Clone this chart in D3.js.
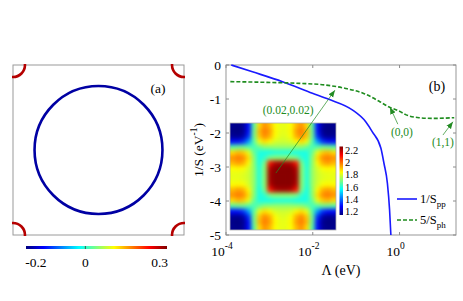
<!DOCTYPE html>
<html>
<head>
<meta charset="utf-8">
<script src="https://cdn.jsdelivr.net/npm/d3@7/dist/d3.min.js"></script>
<style>
  body { margin: 0; background: #fff; }
</style>
</head>
<body>
<div id="chart"></div>
<script>
// ---- panel (a): Fermi surface, k in [-pi, pi] ----
const fermiCircle = {kx: 0, ky: 0, r: 2.35, value: -0.22};
const fermiPockets = [
  {kx: -Math.PI, ky: Math.PI, r: 0.44, value: 0.3},
  {kx: Math.PI, ky: Math.PI, r: 0.44, value: 0.3},
  {kx: -Math.PI, ky: -Math.PI, r: 0.44, value: 0.3},
  {kx: Math.PI, ky: -Math.PI, r: 0.44, value: 0.3},
];
const fsBarDomain = [-0.24, 0.33];
const fsBarTicks = [-0.2, 0, 0.3];

// ---- panel (b): flow of 1/S ----
const lambdaPP = [1.32e-4, 4.07e-4, 2.0e-3, 9.8e-3, 0.0234, 0.0813, 0.166,
  0.234, 0.372, 0.437, 0.525, 0.589, 0.631];
const invSpp = [0.0, -0.20, -0.49, -0.83, -1.01, -1.32, -1.67,
  -1.96, -2.45, -2.89, -3.48, -4.26, -5.0];

const lambdaPH = [1.26e-4, 8.5e-4, 4.9e-3, 0.020, 0.0575, 0.158, 0.331,
  0.562, 1.0, 1.38, 2.82, 5.75, 18.2];
const invSph = [-0.49, -0.51, -0.54, -0.59, -0.69, -0.85, -1.06,
  -1.23, -1.36, -1.46, -1.55, -1.57, -1.55];

const yTicks = [0, -1, -2, -3, -4, -5];
const xTickExps = [-4, -2, 0];

const annotations = [
  {label: '(0.02,0.02)', tx: 2.7e-3, ty: -1.32, x0: 1.41e-3, y0: -3.18, x1: 0.0324, y1: -0.74},
  {label: '(0,0)', tx: 1.135, ty: -1.96, x0: 0.912, y0: -1.74, x1: 0.603, y1: -1.24},
  {label: '(1,1)', tx: 10, ty: -2.26, x0: 10, y0: -2.06, x1: 17, y1: -1.67},
];

// inset: 20x20 map of the vertex
const insetGrid = [
  [1.17,1.16,1.18,1.30,1.66,1.88,1.96,1.92,1.84,1.82,1.82,1.84,1.92,1.96,1.88,1.66,1.30,1.18,1.16,1.17],
  [1.16,1.15,1.17,1.30,1.68,1.92,1.99,1.95,1.85,1.82,1.82,1.85,1.95,1.99,1.92,1.68,1.30,1.17,1.15,1.16],
  [1.18,1.17,1.20,1.34,1.68,1.90,1.97,1.93,1.84,1.81,1.81,1.84,1.93,1.97,1.90,1.68,1.34,1.20,1.17,1.18],
  [1.30,1.30,1.34,1.46,1.66,1.82,1.88,1.85,1.80,1.79,1.79,1.80,1.85,1.88,1.82,1.66,1.46,1.34,1.30,1.30],
  [1.66,1.68,1.68,1.66,1.64,1.68,1.72,1.72,1.73,1.73,1.73,1.73,1.72,1.72,1.68,1.64,1.66,1.68,1.68,1.66],
  [1.88,1.92,1.90,1.82,1.68,1.60,1.59,1.59,1.60,1.60,1.60,1.60,1.59,1.59,1.60,1.68,1.82,1.90,1.92,1.88],
  [1.96,1.99,1.97,1.88,1.72,1.59,1.62,1.70,1.72,1.72,1.72,1.72,1.70,1.62,1.59,1.72,1.88,1.97,1.99,1.96],
  [1.92,1.95,1.93,1.85,1.72,1.59,1.70,2.10,2.20,2.22,2.22,2.20,2.10,1.70,1.59,1.72,1.85,1.93,1.95,1.92],
  [1.84,1.85,1.84,1.80,1.73,1.60,1.72,2.20,2.25,2.25,2.25,2.25,2.20,1.72,1.60,1.73,1.80,1.84,1.85,1.84],
  [1.82,1.82,1.81,1.79,1.73,1.60,1.72,2.22,2.25,2.25,2.25,2.25,2.22,1.72,1.60,1.73,1.79,1.81,1.82,1.82],
  [1.82,1.82,1.81,1.79,1.73,1.60,1.72,2.22,2.25,2.25,2.25,2.25,2.22,1.72,1.60,1.73,1.79,1.81,1.82,1.82],
  [1.84,1.85,1.84,1.80,1.73,1.60,1.72,2.20,2.25,2.25,2.25,2.25,2.20,1.72,1.60,1.73,1.80,1.84,1.85,1.84],
  [1.92,1.95,1.93,1.85,1.72,1.59,1.70,2.10,2.20,2.22,2.22,2.20,2.10,1.70,1.59,1.72,1.85,1.93,1.95,1.92],
  [1.96,1.99,1.97,1.88,1.72,1.59,1.62,1.70,1.72,1.72,1.72,1.72,1.70,1.62,1.59,1.72,1.88,1.97,1.99,1.96],
  [1.88,1.92,1.90,1.82,1.68,1.60,1.59,1.59,1.60,1.60,1.60,1.60,1.59,1.59,1.60,1.68,1.82,1.90,1.92,1.88],
  [1.66,1.68,1.68,1.66,1.64,1.68,1.72,1.72,1.73,1.73,1.73,1.73,1.72,1.72,1.68,1.64,1.66,1.68,1.68,1.66],
  [1.30,1.30,1.34,1.46,1.66,1.82,1.88,1.85,1.80,1.79,1.79,1.80,1.85,1.88,1.82,1.66,1.46,1.34,1.30,1.30],
  [1.18,1.17,1.20,1.34,1.68,1.90,1.97,1.93,1.84,1.81,1.81,1.84,1.93,1.97,1.90,1.68,1.34,1.20,1.17,1.18],
  [1.16,1.15,1.17,1.30,1.68,1.92,1.99,1.95,1.85,1.82,1.82,1.85,1.95,1.99,1.92,1.68,1.30,1.17,1.15,1.16],
  [1.17,1.16,1.18,1.30,1.66,1.88,1.96,1.92,1.84,1.82,1.82,1.84,1.92,1.96,1.88,1.66,1.30,1.18,1.16,1.17],
];
const insetDomain = [1.15, 2.26];
const insetTicks = [2.2, 2, 1.8, 1.6, 1.4, 1.2];

// jet colormap
const jetStops = [0, 0.125, 0.375, 0.625, 0.875, 1];
const jetColors = ['#00007f', '#0000ff', '#00ffff', '#ffff00', '#ff0000', '#7f0000'];
function jet(domain) {
  const t = d3.scaleLinear().domain(domain).range([0, 1]).clamp(true);
  const c = d3.scaleLinear().domain(jetStops).range(jetColors);
  return (v) => c(t(v));
}

const W = 463, H = 301;
const font = '"Liberation Serif", "DejaVu Serif", "Liberation Sans", Arial, sans-serif';
const svg = d3.select('#chart').append('svg')
    .attr('width', W).attr('height', H)
    .attr('font-family', font)
    .style('font-family', font);
const defs = svg.append('defs');

function gradient(id, vertical) {
  const g = defs.append('linearGradient').attr('id', id)
      .attr('x1', 0).attr('y1', vertical ? 1 : 0)
      .attr('x2', vertical ? 0 : 1).attr('y2', 0);
  jetStops.forEach((s, i) => {
    g.append('stop').attr('offset', s).attr('stop-color', jetColors[i]);
  });
}
gradient('jetH', false);
gradient('jetV', true);

// ================= panel (a) =================
const ka = d3.scaleLinear().domain([-Math.PI, Math.PI]).range([13, 184]);
const kb = d3.scaleLinear().domain([-Math.PI, Math.PI]).range([235, 65]);
const fsColor = jet(fsBarDomain);

defs.append('clipPath').attr('id', 'clipA')
    .append('rect').attr('x', ka(-Math.PI) - 1).attr('y', kb(Math.PI) - 1)
    .attr('width', ka(Math.PI) - ka(-Math.PI) + 2)
    .attr('height', kb(-Math.PI) - kb(Math.PI) + 2);

const pa = svg.append('g');
pa.append('rect')
    .attr('x', ka(-Math.PI)).attr('y', kb(Math.PI))
    .attr('width', ka(Math.PI) - ka(-Math.PI))
    .attr('height', kb(-Math.PI) - kb(Math.PI))
    .attr('fill', 'none').attr('stroke', '#9a9a9a').attr('stroke-width', 1);

pa.append('circle')
    .attr('cx', ka(fermiCircle.kx)).attr('cy', kb(fermiCircle.ky))
    .attr('r', ka(fermiCircle.r) - ka(0))
    .attr('fill', 'none').attr('stroke', fsColor(fermiCircle.value))
    .attr('stroke-width', 2.6);

pa.append('g').attr('clip-path', 'url(#clipA)')
    .selectAll('circle').data(fermiPockets).enter()
    .append('circle')
    .attr('cx', (d) => ka(d.kx)).attr('cy', (d) => kb(d.ky))
    .attr('r', (d) => ka(d.r) - ka(0))
    .attr('fill', 'none').attr('stroke', (d) => fsColor(d.value))
    .attr('stroke-width', 2.6);

pa.append('text').attr('x', 158).attr('y', 93)
    .attr('font-size', 13.5).attr('text-anchor', 'middle').text('(a)');

// colorbar of (a)
const cbA = d3.scaleLinear().domain(fsBarDomain).range([26, 167]);
pa.append('rect').attr('x', cbA.range()[0]).attr('y', 246)
    .attr('width', cbA.range()[1] - cbA.range()[0]).attr('height', 3)
    .attr('fill', 'url(#jetH)');
pa.append('line').attr('x1', cbA(0)).attr('x2', cbA(0))
    .attr('y1', 246).attr('y2', 249).attr('stroke', '#333').attr('stroke-width', 0.8);
pa.selectAll('.cbl').data(fsBarTicks).enter()
    .append('text').attr('class', 'cbl')
    .attr('x', (d) => cbA(d)).attr('y', 267)
    .attr('text-anchor', 'middle').attr('font-size', 13.5)
    .text((d) => String(d));

// ================= panel (b) =================
const x = d3.scaleLog().domain([1e-4, 20]).range([226, 456]);
const y = d3.scaleLinear().domain([-5, 0]).range([235, 65]);
const pb = svg.append('g');
const axisGrey = '#8c8c8c';

// frame
pb.append('rect').attr('x', x.range()[0]).attr('y', y.range()[1])
    .attr('width', x.range()[1] - x.range()[0])
    .attr('height', y.range()[0] - y.range()[1])
    .attr('fill', 'none').attr('stroke', axisGrey).attr('stroke-width', 0.9);

// inward ticks on all four sides
const xt = xTickExps.map((e) => Math.pow(10, e));
pb.selectAll('.xtb').data(xt).enter().append('line')
    .attr('x1', (d) => x(d)).attr('x2', (d) => x(d))
    .attr('y1', y(-5)).attr('y2', y(-5) - 3).attr('stroke', axisGrey);
pb.selectAll('.xtt').data(xt).enter().append('line')
    .attr('x1', (d) => x(d)).attr('x2', (d) => x(d))
    .attr('y1', y(0)).attr('y2', y(0) + 3).attr('stroke', axisGrey);
pb.selectAll('.ytl').data(yTicks).enter().append('line')
    .attr('x1', x(1e-4)).attr('x2', x(1e-4) + 3)
    .attr('y1', (d) => y(d)).attr('y2', (d) => y(d)).attr('stroke', axisGrey);
pb.selectAll('.ytr').data(yTicks).enter().append('line')
    .attr('x1', x(20)).attr('x2', x(20) - 3)
    .attr('y1', (d) => y(d)).attr('y2', (d) => y(d)).attr('stroke', axisGrey);

// tick labels
pb.selectAll('.yl').data(yTicks).enter().append('text')
    .attr('x', x(1e-4) - 5).attr('y', (d) => y(d) + 5)
    .attr('text-anchor', 'end').attr('font-size', 13.5)
    .text((d) => String(d));

const xl = pb.selectAll('.xl').data(xTickExps).enter().append('text')
    .attr('x', (e) => x(Math.pow(10, e)) - 4).attr('y', 256)
    .attr('text-anchor', 'middle').attr('font-size', 13.5);
xl.append('tspan').text('10');
xl.append('tspan').attr('dy', -7).attr('font-size', 9.5).text((e) => String(e));

// axis titles
pb.append('text').attr('transform', 'translate(203,150) rotate(-90)')
    .attr('text-anchor', 'middle').attr('font-size', 13.5)
    .call((t) => {
      t.append('tspan').text('1/S (eV');
      t.append('tspan').attr('dy', -6).attr('font-size', 9.5).text('-1');
      t.append('tspan').attr('dy', 6).text(')');
    });
pb.append('text').attr('x', 341).attr('y', 275)
    .attr('text-anchor', 'middle').attr('font-size', 14).text('\u039b (eV)');

pb.append('text').attr('x', 437).attr('y', 91)
    .attr('text-anchor', 'middle').attr('font-size', 14).text('(b)');

// curves
const line = d3.line().curve(d3.curveMonotoneX)
    .x((d) => x(d[0])).y((d) => y(d[1]));
const ppData = d3.zip(lambdaPP, invSpp);
const phData = d3.zip(lambdaPH, invSph);

defs.append('clipPath').attr('id', 'clipB').append('rect')
    .attr('x', x.range()[0]).attr('y', y.range()[1] - 2)
    .attr('width', x.range()[1] - x.range()[0])
    .attr('height', y.range()[0] - y.range()[1] + 2);

pb.append('path').datum(ppData).attr('d', line)
    .attr('clip-path', 'url(#clipB)')
    .attr('fill', 'none').attr('stroke', '#1a1aff').attr('stroke-width', 1.6);
pb.append('path').datum(phData).attr('d', line)
    .attr('fill', 'none').attr('stroke', '#1e8c1e').attr('stroke-width', 1.6)
    .attr('stroke-dasharray', '4,2');

// inset heat map
const ix = d3.scaleBand().domain(d3.range(20)).range([230, 336]);
const iy = d3.scaleBand().domain(d3.range(20)).range([123, 230]);
const insetColor = jet(insetDomain);

const blur = defs.append('filter').attr('id', 'soft')
    .attr('x', '-5%').attr('y', '-5%').attr('width', '110%').attr('height', '110%')
    .attr('color-interpolation-filters', 'sRGB');
blur.append('feGaussianBlur').attr('stdDeviation', 2.1);
blur.append('feComponentTransfer').append('feFuncA')
    .attr('type', 'linear').attr('slope', 30);
defs.append('clipPath').attr('id', 'clipInset').append('rect')
    .attr('x', 230).attr('y', 123).attr('width', 106).attr('height', 107);

const cells = [];
insetGrid.forEach((row, j) => row.forEach((v, i) => cells.push({i, j, v})));
pb.append('g').attr('clip-path', 'url(#clipInset)')
    .append('g').attr('filter', 'url(#soft)')
    .selectAll('rect').data(cells).enter().append('rect')
    .attr('x', (d) => ix(d.i)).attr('y', (d) => iy(d.j))
    .attr('width', ix.bandwidth() + 0.6).attr('height', iy.bandwidth() + 0.6)
    .attr('fill', (d) => insetColor(d.v));
pb.append('rect').attr('x', 230).attr('y', 123).attr('width', 106).attr('height', 107)
    .attr('fill', 'none').attr('stroke', '#b0b0b0').attr('stroke-width', 0.8);

// inset colorbar
const cbI = d3.scaleLinear().domain(insetDomain).range([215, 146.5]);
pb.append('rect').attr('x', 339.5).attr('y', cbI(insetDomain[1]))
    .attr('width', 3.5).attr('height', cbI(insetDomain[0]) - cbI(insetDomain[1]))
    .attr('fill', 'url(#jetV)');
pb.selectAll('.il').data(insetTicks).enter().append('text')
    .attr('x', 345).attr('y', (d) => cbI(d) + 3.5)
    .attr('font-size', 10.5).text((d) => String(d));

// annotations
const annGreen = '#228b22';
defs.append('marker').attr('id', 'arrow')
    .attr('viewBox', '0 0 10 10').attr('refX', 10).attr('refY', 5)
    .attr('markerWidth', 7).attr('markerHeight', 7)
    .attr('markerUnits', 'userSpaceOnUse').attr('orient', 'auto')
    .append('path').attr('d', 'M0,1 L10,5 L0,9 Z').attr('fill', annGreen);

pb.selectAll('.ann').data(annotations).enter().append('line')
    .attr('x1', (d) => x(d.x0)).attr('y1', (d) => y(d.y0))
    .attr('x2', (d) => x(d.x1)).attr('y2', (d) => y(d.y1))
    .attr('stroke', annGreen).attr('stroke-width', 0.7)
    .attr('marker-end', 'url(#arrow)');
pb.selectAll('.annt').data(annotations).enter().append('text')
    .attr('x', (d) => x(d.tx)).attr('y', (d) => y(d.ty) + 4)
    .attr('text-anchor', 'middle').attr('font-size', 11.5)
    .attr('fill', annGreen).text((d) => d.label);

// legend
const legend = [
  {name: '1/S', sub: 'pp', color: '#1a1aff', dash: null, y: 199},
  {name: '5/S', sub: 'ph', color: '#1e8c1e', dash: '4,2', y: 220},
];
const lg = pb.selectAll('.lg').data(legend).enter().append('g');
lg.append('line').attr('x1', 397).attr('x2', 417)
    .attr('y1', (d) => d.y).attr('y2', (d) => d.y)
    .attr('stroke', (d) => d.color).attr('stroke-width', 1.6)
    .attr('stroke-dasharray', (d) => d.dash);
const lt = lg.append('text').attr('x', 420).attr('y', (d) => d.y + 4)
    .attr('font-size', 12.5);
lt.append('tspan').text((d) => d.name);
lt.append('tspan').attr('dy', 4).attr('font-size', 9).text((d) => d.sub);
</script>
</body>
</html>
